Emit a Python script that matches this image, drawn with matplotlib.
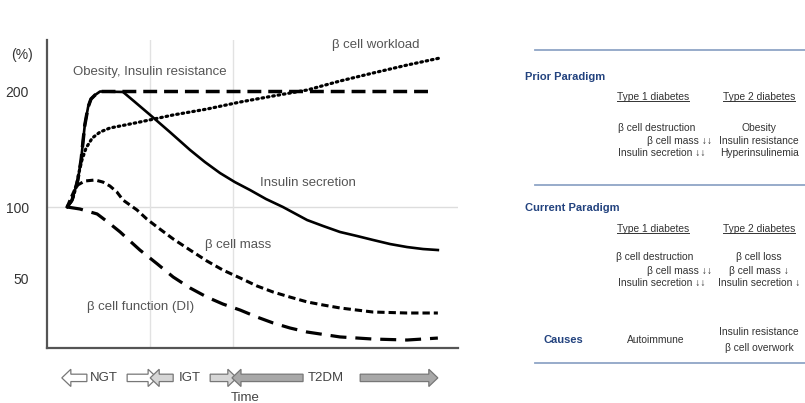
import numpy as np
import matplotlib
matplotlib.use("Agg")
import matplotlib.pyplot as plt
from matplotlib.patches import FancyArrow
from matplotlib.lines import Line2D
from matplotlib.transforms import blended_transform_factory

plt.rcParams["font.family"] = ["Liberation Sans", "DejaVu Sans"]

# curve data (time in arbitrary units 0-100, values in %)
t_secretion = [4.9, 6.1, 6.8, 7.5, 8.3, 8.8, 9.2, 10.0, 10.7, 11.7, 12.9, 18.5, 21.4, 25.1, 29.9, 34.8, 38.4,
               42.1, 45.7, 49.4, 53.3, 57.4, 63.3, 67.2, 71.3, 75.4, 79.3, 83.5, 87.6, 91.5, 95.1]
v_secretion = [100, 106, 114.7, 123.4, 140.7, 158, 171, 186.6, 193.5, 197, 200, 199.6, 190.9, 179.7, 164.9, 149.4, 139,
               129.4, 121.6, 114.7, 106.9, 100, 90.8, 86.6, 82.4, 79.6, 76.8, 73.9, 71.8, 70.4, 69.7]

t_resistance = [4.9, 6.1, 6.8, 7.5, 8.3, 8.8, 9.2, 10.0, 10.7, 11.7, 12.9, 18.5, 30, 50, 70, 93.7]
v_resistance = [100, 106, 114.7, 123.4, 140.7, 158, 171, 186.6, 193.5, 197, 200, 200, 200, 200, 200, 200]

t_workload = [4.9, 6.1, 7.1, 7.8, 8.5, 9.5, 11.0, 12.9, 15.3, 19.0, 22.6, 30.7, 38.9, 47.0, 55.0, 63.3, 71.3, 79.3, 87.6, 95.6]
v_workload = [100, 106, 117.3, 130.3, 140.7, 151, 159.7, 164.9, 168.4, 171, 173.6, 179.7, 184.8, 190.9, 196.1, 201.3,
              209.1, 216, 222.9, 229]

t_mass = [4.9, 5.6, 6.6, 7.5, 9.2, 11.7, 13.6, 15.3, 17.0, 18.5, 20.2, 21.9, 24.3, 26.8, 30.7, 34.8, 38.9, 42.8,
          47.0, 51.1, 55.0, 59.1, 63.3, 67.2, 71.3, 75.4, 79.3, 87.6, 95.1]
v_mass = [100, 106, 113.9, 119.1, 122.5, 123.4, 121.6, 118.2, 113, 106, 101.7, 97.9, 91.5, 85.9, 77.5, 69.7, 62, 55.6,
          50, 44.3, 40, 36.4, 32.9, 30.7, 28.6, 27.1, 25.7, 25, 25]

t_function = [4.9, 8.0, 10.5, 12.2, 14.8, 17.8, 20.2, 22.6, 26.8, 30.7, 34.8, 38.9, 42.8, 47.0, 51.1, 55.0, 59.1,
              63.3, 71.3, 79.3, 87.6, 95.1]
v_function = [100, 98.6, 96.5, 95.1, 89.4, 82.4, 76, 69.7, 60, 50.7, 42.9, 36.4, 31.4, 27.1, 22.1, 17.9, 14.3,
              11.4, 7.9, 6.4, 5.7, 7.1]

y_ticks = [50, 100, 200]
phase_grid = [25.1, 45.3]
phase_names = ["NGT", "IGT", "T2DM"]
phase_label_t = [13.9, 34.8, 67.9]

# table content
prior_t1 = ["\u03b2 cell destruction", "\u03b2 cell mass \u2193\u2193", "Insulin secretion \u2193\u2193"]
prior_t2 = ["Obesity", "Insulin resistance", "Hyperinsulinemia"]
current_t1 = ["\u03b2 cell destruction", "\u03b2 cell mass \u2193\u2193", "Insulin secretion \u2193\u2193"]
current_t2 = ["\u03b2 cell loss", "\u03b2 cell mass \u2193", "Insulin secretion \u2193"]
causes_t1 = "Autoimmune"
causes_t2 = ["Insulin resistance", "\u03b2 cell overwork"]

W, H = 805, 403
fig = plt.figure(figsize=(W / 100, H / 100), dpi=100)
ax = fig.add_axes([47 / W, 1 - 348 / H, 411 / W, 308 / H])

# non-linear y axis as drawn in the original figure
y_val = [0, 50, 100, 200, 400]
y_pos = [0, 70, 141, 256.5, 487.5]
ax.set_yscale("function", functions=(lambda v: np.interp(v, y_val, y_pos),
                                      lambda p: np.interp(p, y_pos, y_val)))
ax.set_xlim(0, 100)
ax.set_ylim(0, 244.6)

ax.axhline(100, color="#dddddd", lw=1, zorder=0)
for g in phase_grid:
    ax.axvline(g, color="#e2e2e2", lw=1, zorder=0)

ax.plot(t_resistance, v_resistance, color="black", lw=2.5, dashes=(4, 2))
ax.plot(t_secretion, v_secretion, color="black", lw=1.9)
ax.plot(t_workload, v_workload, color="black", lw=2.3, dashes=(0.5, 1.2), dash_capstyle="round")
ax.plot(t_mass, v_mass, color="black", lw=2.2, dashes=(2.4, 1.3))
ax.plot(t_function, v_function, color="black", lw=2.3, dashes=(5, 2.8))

txt = dict(color="#555555", fontsize=9.5, va="center", ha="left")
ax.text(6.3, 217, "Obesity, Insulin resistance", **txt)
ax.text(69.3, 240, "\u03b2 cell workload", **txt)
ax.text(51.8, 121, "Insulin secretion", **txt)
ax.text(38.4, 73, "\u03b2 cell mass", **txt)
ax.text(9.7, 29.3, "\u03b2 cell function (DI)", **txt)

for s in ["top", "right"]:
    ax.spines[s].set_visible(False)
for s in ["left", "bottom"]:
    ax.spines[s].set_color("#555555")
    ax.spines[s].set_linewidth(1.6)
ax.set_xticks([])
ax.set_yticks(y_ticks)
ax.set_yticklabels([str(v) for v in y_ticks])
ax.tick_params(axis="y", length=0, pad=13, labelsize=10, labelcolor="#333333")
ytr = ax.get_yaxis_transform()
ax.text(-0.061, 231.6, "(%)", transform=ytr, ha="center", va="center", fontsize=10, color="#333333")

# phase arrows under the time axis
xtr = blended_transform_factory(ax.transData, ax.transAxes)
arrows = [
    (9.7, 3.6, "white"), (19.5, 26.8, "white"),
    (30.7, 25.1, "#d6d6d6"), (39.7, 46.2, "#d6d6d6"),
    (62.3, 45.0, "#a8a8a8"), (76.2, 95.1, "#a8a8a8"),
]
for tail, tip, fc in arrows:
    a = FancyArrow(tail, -0.097, tip - tail, 0, width=0.024, head_width=0.056,
                   head_length=2.2, length_includes_head=True, transform=xtr,
                   facecolor=fc, edgecolor="#777777", lw=0.9, clip_on=False)
    ax.add_patch(a)
for name, tx in zip(phase_names, phase_label_t):
    ax.text(tx, -0.097, name, transform=xtr, ha="center", va="center", fontsize=9.5, color="#444444")
ax.text(48.2, -0.162, "Time", transform=xtr, ha="center", va="center", fontsize=9.5, color="#444444")

# table on the right
def fx(px):
    return px / W

def fy(py):
    return 1 - py / H

line_c = "#8fa5c6"
for py in [50, 185, 363]:
    fig.add_artist(Line2D([fx(535), fx(805)], [fy(py), fy(py)], color=line_c, lw=1.3))

head_c = "#23437f"
body_c = "#333333"
fs = 7.4
fig.text(fx(525), fy(77), "Prior Paradigm", weight="bold", fontsize=8, color=head_c, va="center")
fig.text(fx(525), fy(208), "Current Paradigm", weight="bold", fontsize=8, color=head_c, va="center")
fig.text(fx(563), fy(340), "Causes", weight="bold", fontsize=8, color=head_c, va="center", ha="center")

headers = []
for py in [97, 229]:
    headers.append(fig.text(fx(653), fy(py), "Type 1 diabetes", fontsize=fs, color=body_c, va="center", ha="center"))
    headers.append(fig.text(fx(759), fy(py), "Type 2 diabetes", fontsize=fs, color=body_c, va="center", ha="center"))

for lines, xs, ys in [
    (prior_t1, [618, 647, 618], [128, 141, 153]),
    (current_t1, [616, 647, 618], [257, 271, 283]),
]:
    for s, px, py in zip(lines, xs, ys):
        fig.text(fx(px), fy(py), s, fontsize=fs, color=body_c, va="center")
for lines, ys in [
    (prior_t2, [128, 141, 153]),
    (current_t2, [257, 271, 283]),
    (causes_t2, [332, 348]),
]:
    for s, py in zip(lines, ys):
        fig.text(fx(759), fy(py), s, fontsize=fs, color=body_c, va="center", ha="center")
fig.text(fx(656), fy(340), causes_t1, fontsize=fs, color=body_c, va="center", ha="center")

# underline the column headers
fig.canvas.draw()
r = fig.canvas.get_renderer()
inv = fig.transFigure.inverted()
for h in headers:
    bb = h.get_window_extent(r)
    (x0, y0), (x1, _) = inv.transform([(bb.x0, bb.y0 + 1), (bb.x1, bb.y0 + 1)])
    fig.add_artist(Line2D([x0, x1], [y0, y0], color=body_c, lw=0.7))

fig.savefig("out.png", dpi=100)
